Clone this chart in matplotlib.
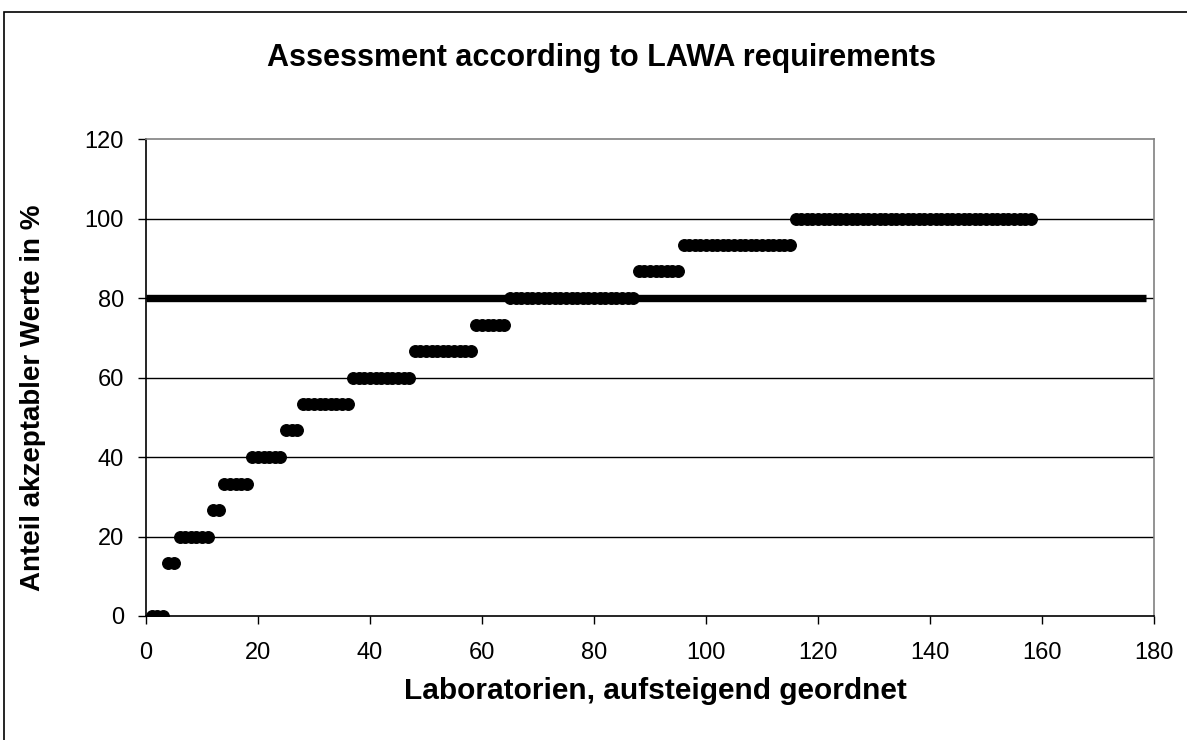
import numpy as np
import matplotlib
matplotlib.use("Agg")
import matplotlib.pyplot as plt
from matplotlib.patches import Rectangle

plt.rcParams['font.family'] = ['Liberation Sans', 'DejaVu Sans']

# share of acceptable values (%) and how many labs sit on each level
levels = [0, 13.3, 20, 26.7, 33.3, 40, 46.7, 53.3, 60, 66.7, 73.3, 80, 86.7, 93.3, 100]
counts = [3, 2, 6, 2, 5, 6, 3, 9, 11, 11, 6, 23, 8, 20, 43]

limit_x = [0, 178.5]
limit_y = [80, 80]

x_ticks = [0, 20, 40, 60, 80, 100, 120, 140, 160, 180]
y_ticks = [0, 20, 40, 60, 80, 100, 120]

share = np.repeat(levels, counts)
labs = np.arange(1, len(share) + 1)

fig = plt.figure(figsize=(11.87, 7.40), dpi=100)
ax = fig.add_axes([146/1187, 1 - 616/740, (1154-146)/1187, (616-139)/740])

for yv in y_ticks[1:-1]:
    ax.axhline(yv, color='black', lw=1.0, zorder=1)

ax.plot(limit_x, limit_y, color='black', lw=5.3, solid_capstyle='butt', zorder=2)
ax.plot(labs, share, 'o', color='black', ms=8.3, zorder=3)

ax.set_xlim(0, 180)
ax.set_ylim(0, 120)
ax.set_xticks(x_ticks)
ax.set_yticks(y_ticks)
ax.tick_params(axis='both', direction='out', length=6, width=1, labelsize=17, colors='black')
ax.tick_params(axis='x', pad=12.5)
ax.tick_params(axis='y', pad=10)

ax.spines['left'].set_color('black')
ax.spines['bottom'].set_color('black')
ax.spines['top'].set_color('#808080')
ax.spines['right'].set_color('#808080')
for s in ax.spines.values():
    s.set_linewidth(1.2)

fig.text(655/1187, 1 - 691/740, 'Laboratorien, aufsteigend geordnet', fontsize=21.5,
         fontweight='bold', ha='center', va='center')
fig.text(33/1187, 1 - 398/740, 'Anteil akzeptabler Werte in %', fontsize=20,
         fontweight='bold', ha='center', va='center', rotation=90)
fig.text(602/1187, 1 - 58/740, 'Assessment according to LAWA requirements', fontsize=22,
         fontweight='bold', ha='center', va='center')

# outer chart border (cut at right and bottom)
fig.patches.append(Rectangle((4/1187, -0.1), 1.2, 1 - 12/740 + 0.1, transform=fig.transFigure,
                             fill=False, edgecolor='black', lw=1.2))

fig.savefig('out.png', dpi=100)
